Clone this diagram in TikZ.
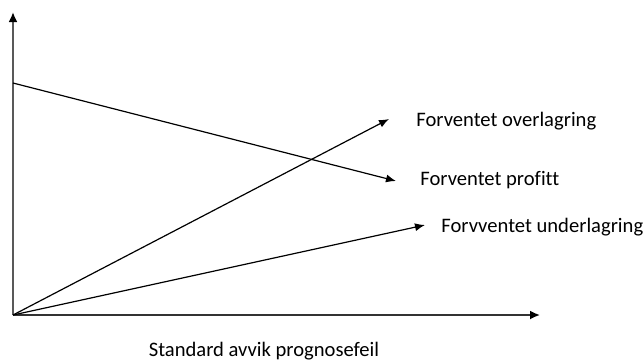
\documentclass[tikz,border=0pt]{standalone}
\usepackage{fontspec}
\setmainfont{Carlito}[Ligatures = NoCommon]
\usetikzlibrary{arrows.meta}
\begin{document}
\begin{tikzpicture}[x = 0.5pt, y = -0.5pt, >={Latex[length = 5pt, width = 4pt]},
    lbl/.style = {anchor = west, inner sep = 0pt, font = \fontsize{10.3}{12}\selectfont}]
        \useasboundingbox (0, 0) rectangle (643, 361);
        
        \coordinate (o) at (13, 315);
        \coordinate (ytop) at (13, 12);
        \coordinate (xend) at (540, 315);
        \coordinate (p0) at (13, 83);
        \coordinate (p1) at (396, 181);
        \coordinate (ov) at (389, 119);
        \coordinate (un) at (425, 225);
        
        % axes
        \draw[-{Latex[length = 5pt, width = 4.5pt, black]}, line width = 1pt, black!65] (o) -- (ytop);
        \draw[-{Latex[length = 5pt, width = 4.5pt, black]}, line width = 0.9pt, black!80] (o) -- (xend);
        
        \draw[->, line width = 0.6pt] (p0) -- (p1);
        \draw[->, line width = 0.6pt] (o) -- (ov);
        \draw[->, line width = 0.6pt] (o) -- (un);
        
        \node[lbl] (tov) at (416, 121) {Forventet overlagring};
        \node[lbl] (tpr) at (420, 180) {Forventet profitt};
        \node[lbl] (tun) at (441, 227) {Forvventet underlagring};
        \node[lbl, anchor = center] (tx) at (264, 351) {Standard avvik prognosefeil};
      \end{tikzpicture}
\end{document}
